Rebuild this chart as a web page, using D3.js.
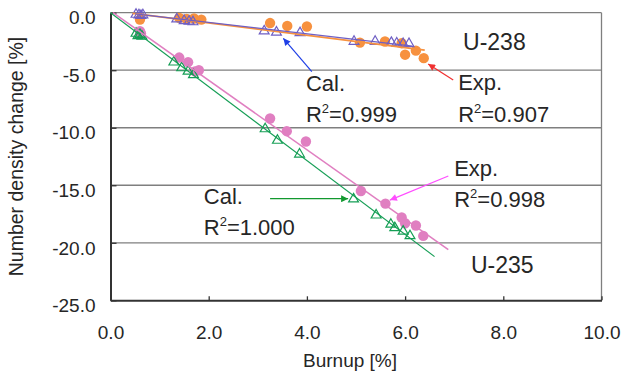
<!DOCTYPE html>
<html>
<head>
<meta charset="utf-8">
<script src="https://cdn.jsdelivr.net/npm/d3@7"></script>
<style>
body { margin: 0; background: #fff; }
text { font-family: "Liberation Sans", Arial, sans-serif; fill: #262626; }
</style>
</head>
<body>
<svg width="621" height="382"></svg>
<script>
// values: [burnup %, number density change %]
var u238Exp = [[0.6,-0.6],[1.4,-0.45],[1.55,-0.55],[1.7,-0.5],[1.85,-0.6],[3.25,-0.9],[3.6,-1.15],
    [4.0,-1.2],[5.08,-2.6],[5.59,-2.5],[5.93,-2.65],[6.0,-3.65],[6.22,-3.3],[6.38,-3.95]];
var u238Cal = [[0.52,-0.15],[0.58,-0.2],[0.62,-0.25],[0.66,-0.2],[1.35,-0.55],[1.5,-0.7],[1.6,-0.75],
    [1.68,-0.8],[3.13,-1.6],[3.38,-1.7],[3.86,-1.75],[4.96,-2.5],[5.39,-2.5],[5.72,-2.6],[5.83,-2.65],
    [5.96,-2.7],[6.08,-2.7]];
var u235Exp = [[0.6,-1.6],[0.62,-1.8],[1.4,-3.9],[1.58,-4.3],[1.72,-5.1],[1.8,-5.0],[3.25,-9.2],
    [3.59,-10.3],[3.98,-11.2],[5.1,-15.5],[5.6,-16.6],[5.93,-17.8],[6.0,-18.3],[6.22,-18.5],[6.37,-19.4]];
var u235Cal = [[0.52,-1.8],[0.56,-2.0],[0.6,-1.9],[0.64,-2.05],[1.29,-4.3],[1.45,-4.8],[1.58,-5.1],
    [1.69,-5.4],[3.15,-10.1],[3.4,-11.1],[3.85,-12.3],[4.95,-16.2],[5.41,-17.6],[5.71,-18.4],
    [5.79,-18.7],[5.96,-19.0],[6.1,-19.4]];

// linear fits (end points)
var u238ExpFit = [[0.45,-0.05],[6.4,-3.25]];
var u238CalFit = [[0.5,-0.1],[6.15,-2.9]];
var u235ExpFit = [[0.05,0],[6.88,-20.6]];
var u235CalFit = [[0.0,0],[6.6,-21.2]];

var xTicks = [0, 2, 4, 6, 8, 10];
var yTicks = [0, -5, -10, -15, -20, -25];

var svg = d3.select("svg"),
    margin = {left: 110.5, top: 12.7, right: 19.5, bottom: 81.7},
    width = +svg.attr("width") - margin.left - margin.right,
    height = +svg.attr("height") - margin.top - margin.bottom;

var x = d3.scaleLinear().domain([0, 10]).range([0, width]);
var y = d3.scaleLinear().domain([-25, 0]).range([height, 0]);

var fmt = function (d) { return d3.format(".1f")(d).replace("\u2212", "-"); };

var g = svg.append("g").attr("transform", "translate(" + margin.left + "," + margin.top + ")");

// grid lines
g.selectAll(".grid").data(yTicks.filter(function (d) { return d > -25; }))
    .enter().append("line")
    .attr("x1", 0).attr("x2", width)
    .attr("y1", function (d) { return y(d); })
    .attr("y2", function (d) { return y(d); })
    .attr("stroke", "#7f7f7f").attr("stroke-width", 1.3);
g.append("line").attr("x1", width).attr("x2", width).attr("y1", 0).attr("y2", height)
    .attr("stroke", "#7f7f7f").attr("stroke-width", 1.3);

// axes
var xAxis = g.append("g").attr("transform", "translate(0," + height + ")")
    .call(d3.axisBottom(x).tickValues(xTicks).tickSizeInner(-4).tickSizeOuter(0).tickPadding(39)
        .tickFormat(fmt));
var yAxis = g.append("g")
    .call(d3.axisLeft(y).tickValues(yTicks).tickSizeInner(-6).tickSizeOuter(0).tickPadding(15)
        .tickFormat(fmt));
[xAxis, yAxis].forEach(function (a) {
    a.select(".domain").attr("stroke", "#333").attr("stroke-width", 2);
    a.selectAll(".tick line").attr("stroke", "#333").attr("stroke-width", 1.3);
    a.selectAll("text").attr("font-size", 19).attr("fill", "#262626")
        .style("font-family", "'Liberation Sans', Arial, sans-serif");
});
yAxis.selectAll("text").attr("dy", "0.75em").attr("y", -3);
xAxis.selectAll("text").attr("dy", "0");

svg.append("text").attr("x", 350).attr("y", 367)
    .attr("text-anchor", "middle").attr("font-size", 19).text("Burnup [%]");
svg.append("text").attr("transform", "translate(23," + (margin.top + height / 2) + ") rotate(-90)")
    .attr("text-anchor", "middle").attr("font-size", 19.5).text("Number density change [%]");

var line = d3.line().x(function (d) { return x(d[0]); }).y(function (d) { return y(d[1]); });

function fit(data, color, w) {
    g.append("path").datum(data).attr("d", line)
        .attr("fill", "none").attr("stroke", color).attr("stroke-width", w);
}
function circles(data, color) {
    g.append("g").selectAll("circle").data(data).enter().append("circle")
        .attr("cx", function (d) { return x(d[0]); })
        .attr("cy", function (d) { return y(d[1]); })
        .attr("r", 5.2).attr("fill", color);
}
function triangles(data, color) {
    g.append("g").selectAll("path").data(data).enter().append("path")
        .attr("d", d3.symbol().type(d3.symbolTriangle).size(42))
        .attr("transform", function (d) { return "translate(" + x(d[0]) + "," + y(d[1]) + ")"; })
        .attr("fill", "none").attr("stroke", color).attr("stroke-width", 1.2);
}

var orange = "#f7913f", purple = "#6f5fc4", pink = "#e07fc1", green = "#159e55";

circles(u235Exp, pink);
triangles(u235Cal, green);
fit(u235ExpFit, pink, 1.6);
fit(u235CalFit, green, 1.1);
circles(u238Exp, orange);
triangles(u238Cal, purple);
fit(u238ExpFit, orange, 1.8);
fit(u238CalFit, purple, 1.3);

// annotations
var defs = svg.append("defs");
function arrow(from, to, color, id) {
    defs.append("marker").attr("id", id).attr("viewBox", "0 0 10 10")
        .attr("refX", 10).attr("refY", 5).attr("markerWidth", 10).attr("markerHeight", 7)
        .attr("markerUnits", "userSpaceOnUse").attr("orient", "auto")
        .append("path").attr("d", "M0,0L10,5L0,10z").attr("fill", color);
    g.append("line").attr("x1", x(from[0])).attr("y1", y(from[1]))
        .attr("x2", x(to[0])).attr("y2", y(to[1]))
        .attr("stroke", color).attr("stroke-width", 1.2).attr("marker-end", "url(#" + id + ")");
}
arrow([4.1, -5.13], [3.52, -2.23], "#1f3fe6", "ab");
arrow([6.98, -5.85], [6.47, -4.46], "#f03030", "ar");
arrow([6.88, -14.2], [5.69, -16.29], "#ff4dff", "am");
arrow([3.25, -16.17], [4.84, -16.17], "#12992f", "ag");

function label(pos, txt) {
    g.append("text").attr("x", x(pos[0])).attr("y", y(pos[1])).attr("font-size", 22).text(txt);
}
function r2(pos, val) {
    var t = g.append("text").attr("x", x(pos[0])).attr("y", y(pos[1])).attr("font-size", 22);
    t.append("tspan").text("R");
    t.append("tspan").attr("font-size", 13).attr("dy", -9).text("2");
    t.append("tspan").attr("dy", 9).text("=" + val);
}
label([3.98, -6.8], "Cal.");
r2([3.98, -9.48], "0.999");
label([7.08, -6.72], "Exp.");
r2([7.08, -9.48], "0.907");
label([7.0, -14.2], "Exp.");
r2([7.0, -16.87], "0.998");
label([1.9, -16.66], "Cal.");
r2([1.9, -19.33], "1.000");
g.append("text").attr("x", x(7.18)).attr("y", y(-3.24)).attr("font-size", 23).text("U-238");
g.append("text").attr("x", x(7.34)).attr("y", y(-22.66)).attr("font-size", 23).text("U-235");
</script>
</body>
</html>
